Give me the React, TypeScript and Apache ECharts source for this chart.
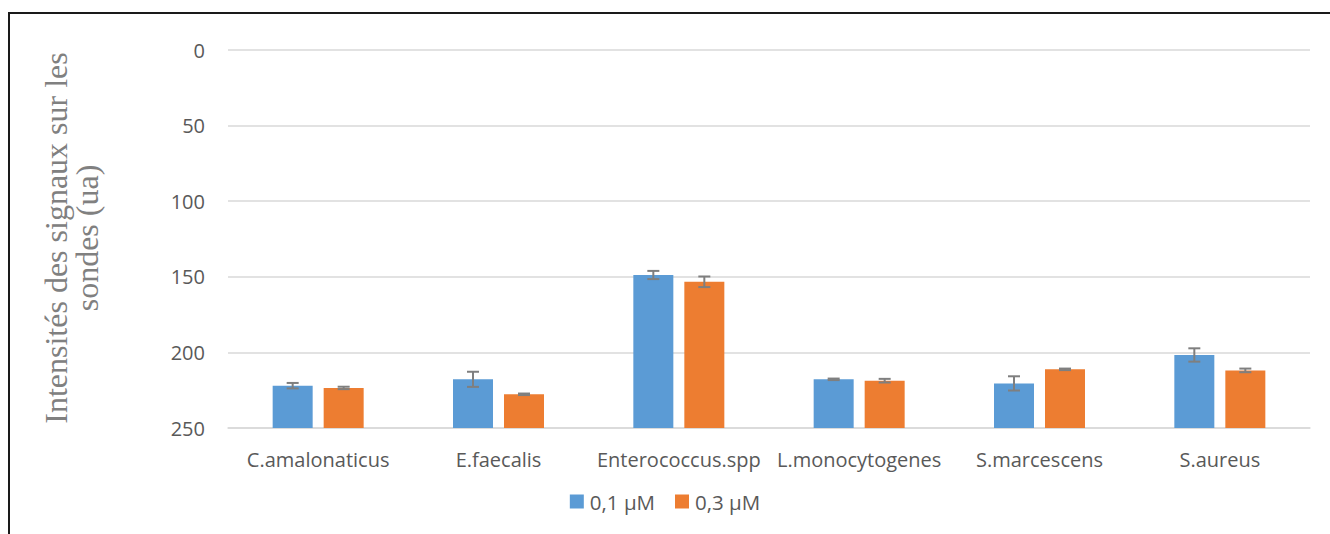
import React, { useEffect, useRef } from "react";
import * as echarts from "echarts";

const categories = ["C.amalonaticus", "E.faecalis", "Enterococcus.spp", "L.monocytogenes", "S.marcescens", "S.aureus"];
const seriesNames = ["0,1 µM", "0,3 µM"];
const values01 = [222, 217.8, 148.8, 217.8, 220.5, 201.7];
const values03 = [223.5, 227.7, 153.3, 218.7, 211.2, 211.9];
const err01 = [1.8, 5, 2.7, 0.5, 4.7, 4.4];
const err03 = [0.8, 0.5, 3.5, 1.2, 0.5, 1.2];
const yTicks = [0, 50, 100, 150, 200, 250];
const axisMin = 0;
const axisMax = 250;

const BLUE = "#5B9BD5";
const ORANGE = "#ED7D31";
const BAR_W = 40;
const GAP = 11;

function errorSeries(values: number[], errs: number[], offset: number) {
  return {
    type: "custom",
    z: 5,
    silent: true,
    data: values.map((v, i) => [i, v, errs[i]]),
    renderItem: (params: any, api: any) => {
      const i = api.value(0);
      const v = api.value(1);
      const e = api.value(2);
      const top = api.coord([i, v - e]);
      const bot = api.coord([i, v + e]);
      const x = top[0] + offset;
      const cap = 6;
      const style = { stroke: "#7F7F7F", lineWidth: 2, fill: "none" };
      return {
        type: "group",
        children: [
          { type: "line", shape: { x1: x, y1: top[1], x2: x, y2: bot[1] }, style },
          { type: "line", shape: { x1: x - cap, y1: top[1], x2: x + cap, y2: top[1] }, style },
          { type: "line", shape: { x1: x - cap, y1: bot[1], x2: x + cap, y2: bot[1] }, style },
        ],
      };
    },
  };
}

export default function App() {
  const ref = useRef<HTMLDivElement>(null);
  useEffect(() => {
    if (!ref.current) return;
    const chart = echarts.init(ref.current, null, { renderer: "svg" });
    const off = BAR_W / 2 + GAP / 2;
    const textColor = "#595959";
    const font = "'Open Sans', sans-serif";
    chart.setOption({
      animation: false,
      backgroundColor: "#fff",
      grid: { left: 228, right: 20, top: 50, bottom: 106, containLabel: false },
      legend: {
        data: seriesNames,
        bottom: 17,
        left: "center",
        itemWidth: 14,
        itemHeight: 14,
        itemGap: 20,
        icon: "rect",
        textStyle: { color: textColor, fontSize: 20.5, fontFamily: font, padding: [0, 0, 0, 1] },
      },
      xAxis: {
        type: "category",
        data: categories,
        position: "bottom",
        axisLine: { show: true, onZero: false, lineStyle: { color: "#D9D9D9", width: 1.5 } },
        axisTick: { show: false },
        axisLabel: { color: textColor, fontSize: 20, fontFamily: font, margin: 21, interval: 0 },
      },
      yAxis: {
        type: "value",
        inverse: true,
        min: axisMin,
        max: axisMax,
        interval: 50,
        axisLine: { show: false },
        axisTick: { show: false },
        axisLabel: {
          color: textColor,
          fontSize: 20,
          fontFamily: font,
          margin: 23,
          formatter: (v: number) => (yTicks.includes(v) ? String(v) : ""),
        },
        splitLine: { lineStyle: { color: "#D9D9D9", width: 1.5 } },
      },
      graphic: [
        {
          type: "rect",
          shape: { x: 9, y: 13, width: 1400, height: 700 },
          style: { fill: "none", stroke: "#1a1a1a", lineWidth: 2 },
          silent: true,
        },
        {
          type: "text",
          x: 71,
          y: 238,
          rotation: Math.PI / 2,
          style: {
            text: "Intensités des signaux sur les\nsondes (ua)",
            fill: "#808080",
            font: "32px 'Liberation Serif', 'Times New Roman', serif",
            align: "center",
            verticalAlign: "middle",
            lineHeight: 31,
          },
          silent: true,
        },
      ],
      series: [
        {
          name: "base1",
          type: "bar",
          stack: "a",
          barWidth: BAR_W,
          barGap: (GAP / BAR_W) * 100 + "%",
          itemStyle: { color: "transparent" },
          silent: true,
          data: values01,
        },
        {
          name: seriesNames[0],
          type: "bar",
          stack: "a",
          barWidth: BAR_W,
          barGap: (GAP / BAR_W) * 100 + "%",
          itemStyle: { color: BLUE },
          data: values01.map((v) => axisMax - v),
        },
        {
          name: "base2",
          type: "bar",
          stack: "b",
          barWidth: BAR_W,
          barGap: (GAP / BAR_W) * 100 + "%",
          itemStyle: { color: "transparent" },
          silent: true,
          data: values03,
        },
        {
          name: seriesNames[1],
          type: "bar",
          stack: "b",
          barWidth: BAR_W,
          barGap: (GAP / BAR_W) * 100 + "%",
          itemStyle: { color: ORANGE },
          data: values03.map((v) => axisMax - v),
        },
        errorSeries(values01, err01, -off),
        errorSeries(values03, err03, off),
      ],
    });
    return () => chart.dispose();
  }, []);
  return (
    <div
      ref={ref}
      style={{ position: "absolute", left: 0, top: 0, width: 1330, height: 534 }}
    />
  );
}
